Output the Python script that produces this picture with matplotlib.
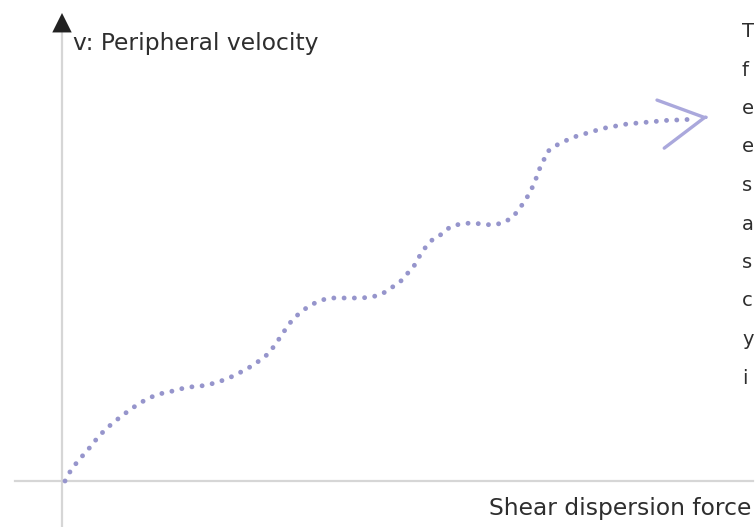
import matplotlib
matplotlib.use("Agg")
import matplotlib.pyplot as plt

# =========================
# DATA (units = px from origin)
# =========================
shear = [0, 6, 13, 20, 27, 33, 41, 49, 58, 66,
         75, 84, 94, 104, 115, 125, 136, 146, 156, 166,
         176, 185, 194, 203, 210, 216, 222, 228, 236, 244,
         254, 264, 275, 286, 296, 307, 317, 326, 335, 342,
         349, 354, 360, 368, 377, 385, 395, 406, 417, 427,
         438, 448, 454, 460, 465, 470, 473, 478, 482, 490,
         500, 509, 519, 529, 540, 551, 562, 573, 584, 595,
         606, 617, 628]
velocity = [0, 11, 20, 28, 36, 44, 52, 59, 66, 72,
            78, 83, 87, 89, 92, 94, 95, 97, 100, 104,
            109, 114, 120, 127, 136, 145, 154, 162, 169, 175,
            180, 183, 183, 183, 183, 184, 187, 193, 199, 207,
            215, 224, 233, 242, 247, 254, 257, 258, 257, 256,
            258, 264, 272, 280, 289, 299, 309, 319, 329, 335,
            340, 344, 347, 350, 353, 355, 357, 358, 359, 360,
            361, 361, 362]

y_label = "v: Peripheral velocity"
x_label = "Shear dispersion force"
# first letters of the neighbouring text column (cut off by the crop)
side_letters = ["T", "f", "e", "e", "s", "a", "s", "c", "y", "i"]

plt.rcParams["font.family"] = ["DejaVu Sans"]

# =========================
# FIGURE
# =========================
fig = plt.figure(figsize=(7.56, 5.27), dpi=100)
ax = fig.add_axes([0, 0, 1, 1])
ax.set_xlim(-65, 691)
ax.set_ylim(-46, 481)
ax.axis("off")

axis_col = "#d6d6d6"
curve_col = "#9695cc"
text_col = "#2e2e2e"

# axes lines
ax.plot([-3, -3], [-46, 449], color=axis_col, lw=1.6, zorder=1)
ax.plot([-50, 688], [0, 0], color=axis_col, lw=1.6, zorder=1)
# y axis arrow head
ax.annotate("", xy=(-3, 468), xytext=(-3, 440),
            arrowprops=dict(arrowstyle="-|>,head_length=1.4,head_width=0.7",
                            color="#222222", lw=0, mutation_scale=10,
                            shrinkA=0, shrinkB=0))
# x axis arrow head (mostly outside the crop)
ax.annotate("", xy=(706, 0), xytext=(686, 0),
            arrowprops=dict(arrowstyle="-|>,head_length=1.4,head_width=0.7",
                            color="#222222", lw=0, mutation_scale=10,
                            shrinkA=0, shrinkB=0))

# dotted curve
ax.plot(shear, velocity, color=curve_col, lw=3.5,
        linestyle=(0, (0.01, 2.1)), dash_capstyle="round", zorder=3)

# open chevron at the end of the curve
ax.annotate("", xy=(shear[-1] + 15, velocity[-1] + 2),
            xytext=(shear[-1] + 13, velocity[-1] + 1.7),
            arrowprops=dict(arrowstyle="->,head_length=3.2,head_width=1.75",
                            color="#aaa8dc", lw=2.4, mutation_scale=10,
                            shrinkA=0, shrinkB=0))

# labels
ax.text(8, 431, y_label, fontsize=16.8, color=text_col, va="baseline", ha="left")
ax.text(686, -34, x_label, fontsize=16.8, color=text_col, va="baseline", ha="right")

for k, ch in enumerate(side_letters):
    ax.text(677, 444 - 38.5 * k, ch, fontsize=14, color=text_col,
            va="baseline", ha="left")

plt.savefig("out.png", dpi=100)
plt.close()
